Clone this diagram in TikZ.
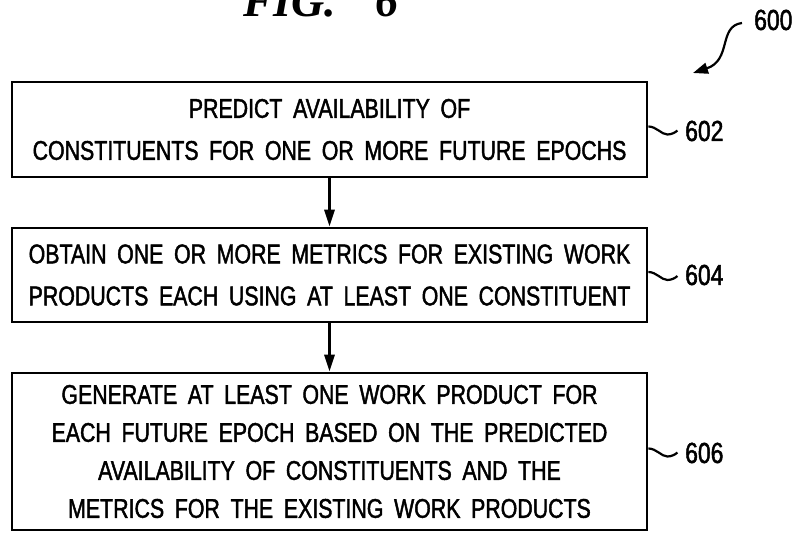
\documentclass[tikz,border=0pt]{standalone}
\usepackage{fontspec}
\setmainfont{Liberation Sans}[FakeStretch=0.79,WordSpace=1.8,FakeBold=1.6]
\newfontfamily\titlefont{Liberation Serif}[BoldItalicFont={Liberation Serif Bold Italic}]
\usetikzlibrary{arrows.meta}
\begin{document}
\begin{tikzpicture}[x=1pt,y=-1pt,
  stepbox/.style={draw,line width=2.8pt,minimum width=635pt,inner sep=0pt,align=center},
  reflabel/.style={font=\fontsize{29}{29}\selectfont,inner sep=0pt,anchor=west},
  flow/.style={line width=3pt,-{Triangle[length=17pt,width=10pt]}},
  squig/.style={line width=2.2pt}]
\useasboundingbox (0,0) rectangle (798,537);
\node[anchor=base west,inner sep=0pt,font=\titlefont\bfseries\itshape\fontsize{46}{46}\selectfont] (title) at (243,17) {FIG.\hspace{0.85em}6};
\node[stepbox,minimum height=95pt,font=\fontsize{27}{42}\selectfont] (b1) at (329.5,129.5)
  {PREDICT AVAILABILITY OF\\CONSTITUENTS FOR ONE OR MORE FUTURE EPOCHS};
\node[stepbox,minimum height=94pt,font=\fontsize{27}{42}\selectfont] (b2) at (329.5,275)
  {OBTAIN ONE OR MORE METRICS FOR EXISTING WORK\\PRODUCTS EACH USING AT LEAST ONE CONSTITUENT};
\node[stepbox,minimum height=157pt,font=\fontsize{27}{38}\selectfont] (b3) at (329.5,451.5)
  {GENERATE AT LEAST ONE WORK PRODUCT FOR\\EACH FUTURE EPOCH BASED ON THE PREDICTED\\AVAILABILITY OF CONSTITUENTS AND THE\\METRICS FOR THE EXISTING WORK PRODUCTS};
\draw[flow] (b1) -- (b2);
\draw[flow] (b2) -- (b3);
\node[reflabel] (l602) at (685,131) {602};
\node[reflabel] (l604) at (685,275) {604};
\node[reflabel] (l606) at (685,453) {606};
\node[reflabel] (l600) at (754,20) {600};
\foreach \b/\l in {b1/l602,b2/l604,b3/l606}{
  \draw[squig] ([yshift=3pt]\b.east) .. controls +(8pt,0pt) and +(-6pt,0pt) .. ++(19pt,-8pt)
     .. controls +(4pt,0pt) and +(-2pt,-2pt) .. ++(10pt,4pt);
}
\coordinate (a600s) at (742,23);
\coordinate (a600e) at (693,73);
\draw[line width=2.2pt,-{Triangle[length=15pt,width=11pt]}] (a600s) .. controls (718,26) and (732,60) .. (a600e);
\end{tikzpicture}
\end{document}
